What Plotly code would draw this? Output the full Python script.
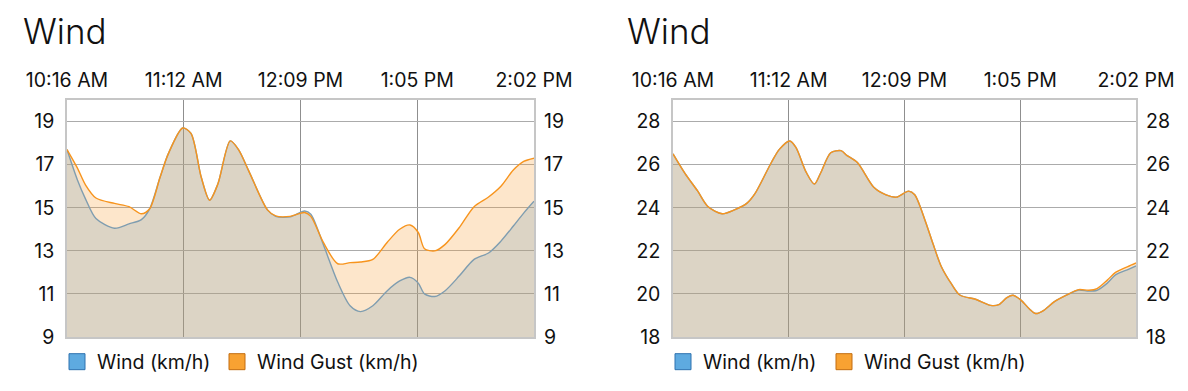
import plotly.graph_objects as go

# ---------------- data ----------------
# minutes after 10:16 AM
tick_minutes = [0, 56.5, 113, 169.5, 226]
tick_labels = ["10:16 AM", "11:12 AM", "12:09 PM", "1:05 PM", "2:02 PM"]

left_minutes = [0, 5, 9, 14, 23, 30, 36, 40, 45, 49, 56, 60, 65, 69, 73, 79, 83, 88, 97, 101,
                108, 115, 118, 124, 131, 137, 142, 148, 155, 161, 166, 170, 173, 178, 183, 190,
                197, 204, 210, 216, 221, 226]
left_gust = [17.7, 16.85, 16.05, 15.45, 15.2, 15.05, 14.72, 14.95, 16.4, 17.5, 18.7, 18.45, 16.4,
             15.35, 16.1, 18.1, 17.7, 16.7, 14.9, 14.62, 14.6, 14.78, 14.6, 13.4, 12.4, 12.45,
             12.48, 12.6, 13.4, 14.0, 14.2, 13.85, 13.1, 13.0, 13.3, 14.1, 15.05, 15.5, 16.0,
             16.75, 17.15, 17.3]
left_wind = [17.7, 16.3, 15.4, 14.5, 14.05, 14.25, 14.45, 14.95, 16.4, 17.5, 18.7, 18.45, 16.4,
             15.35, 16.1, 18.1, 17.7, 16.7, 14.9, 14.6, 14.58, 14.85, 14.7, 13.3, 11.55, 10.45,
             10.18, 10.45, 11.15, 11.6, 11.77, 11.5, 11.0, 10.88, 11.15, 11.85, 12.6, 12.9,
             13.45, 14.15, 14.75, 15.3]

right_minutes = [0, 6, 12, 17, 24, 30, 36, 40, 48, 52, 57, 60, 65, 69, 72, 77, 82, 85, 90, 98,
                 104, 109, 115, 118, 123, 127, 131, 136, 140, 148, 155, 159, 163, 166, 170, 174,
                 177, 181, 186, 192, 198, 203, 207, 212, 216, 222, 226]
right_gust = [26.5, 25.57, 24.78, 24.06, 23.72, 23.9, 24.2, 24.65, 26.1, 26.72, 27.1, 26.8, 25.65,
              25.1, 25.6, 26.55, 26.65, 26.42, 26.1, 24.95, 24.6, 24.49, 24.77, 24.6, 23.42,
              22.3, 21.26, 20.45, 19.95, 19.74, 19.47, 19.5, 19.83, 19.94, 19.7, 19.3, 19.09,
              19.24, 19.63, 19.94, 20.2, 20.17, 20.25, 20.64, 21.0, 21.27, 21.44]
right_wind = [26.5, 25.57, 24.78, 24.06, 23.72, 23.9, 24.2, 24.65, 26.1, 26.72, 27.1, 26.8, 25.65,
              25.1, 25.6, 26.55, 26.65, 26.42, 26.1, 24.95, 24.6, 24.49, 24.77, 24.6, 23.42,
              22.3, 21.26, 20.45, 19.95, 19.74, 19.47, 19.5, 19.83, 19.94, 19.7, 19.3, 19.09,
              19.24, 19.63, 19.94, 20.18, 20.13, 20.17, 20.5, 20.88, 21.13, 21.3]

left_yticks = [9, 11, 13, 15, 17, 19]
right_yticks = [18, 20, 22, 24, 26, 28]
left_range = [9, 20]
right_range = [18, 29]

series_names = ["Wind (km/h)", "Wind Gust (km/h)"]
chart_title = "Wind"

# ---------------- styles ----------------
FONT = "Inter"
FS = 19.5
OFF = 8                      # page body margin
W, H = 1188 - OFF, 391 - OFF
GUST_FILL = "rgba(249,157,49,0.25)"
WIND_FILL = "rgba(124,160,178,0.25)"
GUST_LINE = "#f7941d"
WIND_LINE = "#7f9db0"
LEG_BLUE, LEG_BLUE_EDGE = "#5eaae0", "#2e72b0"
LEG_ORANGE, LEG_ORANGE_EDGE = "#f8a232", "#c36d10"


def px(x):
    return (x - OFF) / W


def py(y):
    return 1 - (y - OFF) / H


fig = go.Figure()


def add_chart(xs, wind, gust, xa, ya, legends):
    common = dict(x=xs, xaxis=xa, yaxis=ya, showlegend=False, hoverinfo="skip",
                  line_shape="spline")
    fig.add_trace(go.Scatter(y=gust, fill="tozeroy", fillcolor=GUST_FILL,
                             mode="lines", line=dict(width=0, smoothing=0.8), **common))
    fig.add_trace(go.Scatter(y=wind, fill="tozeroy", fillcolor=WIND_FILL,
                             mode="lines", line=dict(width=0, smoothing=0.8), **common))
    fig.add_trace(go.Scatter(y=wind, mode="lines",
                             line=dict(color=WIND_LINE, width=1.4, smoothing=0.8), **common))
    fig.add_trace(go.Scatter(y=gust, mode="lines",
                             line=dict(color=GUST_LINE, width=1.4, smoothing=0.8), **common))
    for name, fc, ec, lg in [(series_names[0], LEG_BLUE, LEG_BLUE_EDGE, legends[0]),
                             (series_names[1], LEG_ORANGE, LEG_ORANGE_EDGE, legends[1])]:
        fig.add_trace(go.Scatter(x=[None], y=[None], mode="markers", name=name,
                                 xaxis=xa, yaxis=ya, legend=lg,
                                 marker=dict(symbol="square", size=17, color=fc,
                                             line=dict(color=ec, width=1))))


add_chart(left_minutes, left_wind, left_gust, "x", "y", ("legend", "legend2"))
add_chart(right_minutes, right_wind, right_gust, "x2", "y2", ("legend3", "legend4"))

ydom = [py(337), py(100)]
xdomL = [px(67), px(534)]
xdomR = [px(673), px(1136)]

tickfont = dict(family=FONT, size=FS, color="#111")
xcommon = dict(range=[0, 226], side="top", tickmode="array", tickvals=tick_minutes,
               ticktext=tick_labels, showgrid=True, gridcolor="#8f8f8f", gridwidth=1,
               showline=True, mirror=True, linecolor="#c6c6c6", linewidth=1.5,
               zeroline=False, ticks="", ticklabelstandoff=3, automargin=False,
               tickfont=tickfont, fixedrange=True)
ycommon = dict(tickmode="array", showgrid=True, gridcolor="#ababab", gridwidth=1,
               showline=True, mirror=True, linecolor="#c6c6c6", linewidth=1.5,
               zeroline=False, ticks="", ticklabelstandoff=7, automargin=False,
               tickfont=tickfont, fixedrange=True)
yright = dict(side="right", showgrid=False, showline=False, zeroline=False, ticks="",
              ticklabelstandoff=9, automargin=False, tickfont=tickfont, fixedrange=True)


def leg(xpage):
    return dict(orientation="h", x=px(xpage), xanchor="left", y=py(362), yanchor="middle",
                font=dict(family=FONT, size=FS, color="#111"), itemsizing="trace",
                bgcolor="rgba(0,0,0,0)", borderwidth=0)


fig.update_layout(
    width=W, height=H,
    margin=dict(l=0, r=0, t=0, b=0, autoexpand=False),
    paper_bgcolor="white", plot_bgcolor="white",
    font=dict(family=FONT, color="#111"),
    xaxis=dict(domain=xdomL, anchor="y", **xcommon),
    xaxis2=dict(domain=xdomR, anchor="y2", **xcommon),
    yaxis=dict(domain=ydom, anchor="x", range=left_range, tickvals=left_yticks, **ycommon),
    yaxis2=dict(domain=ydom, anchor="x2", range=right_range, tickvals=right_yticks, **ycommon),
    yaxis3=dict(overlaying="y", anchor="x", range=left_range, tickvals=left_yticks, **yright),
    yaxis4=dict(overlaying="y2", anchor="x2", range=right_range, tickvals=right_yticks, **yright),
    legend=leg(57), legend2=leg(217), legend3=leg(663), legend4=leg(824),
    annotations=[
        dict(text=chart_title, x=px(21), y=py(31), xref="paper", yref="paper",
             xanchor="left", yanchor="middle", showarrow=False,
             font=dict(family=FONT, size=35, color="#111", weight=300)),
        dict(text=chart_title, x=px(625), y=py(31), xref="paper", yref="paper",
             xanchor="left", yanchor="middle", showarrow=False,
             font=dict(family=FONT, size=35, color="#111", weight=300)),
    ],
)

# traces on the overlaying right axes so they render
fig.add_trace(go.Scatter(x=[None], y=[None], xaxis="x", yaxis="y3", showlegend=False,
                         hoverinfo="skip"))
fig.add_trace(go.Scatter(x=[None], y=[None], xaxis="x2", yaxis="y4", showlegend=False,
                         hoverinfo="skip"))

fig.write_html("out.html", config={"displayModeBar": False})
